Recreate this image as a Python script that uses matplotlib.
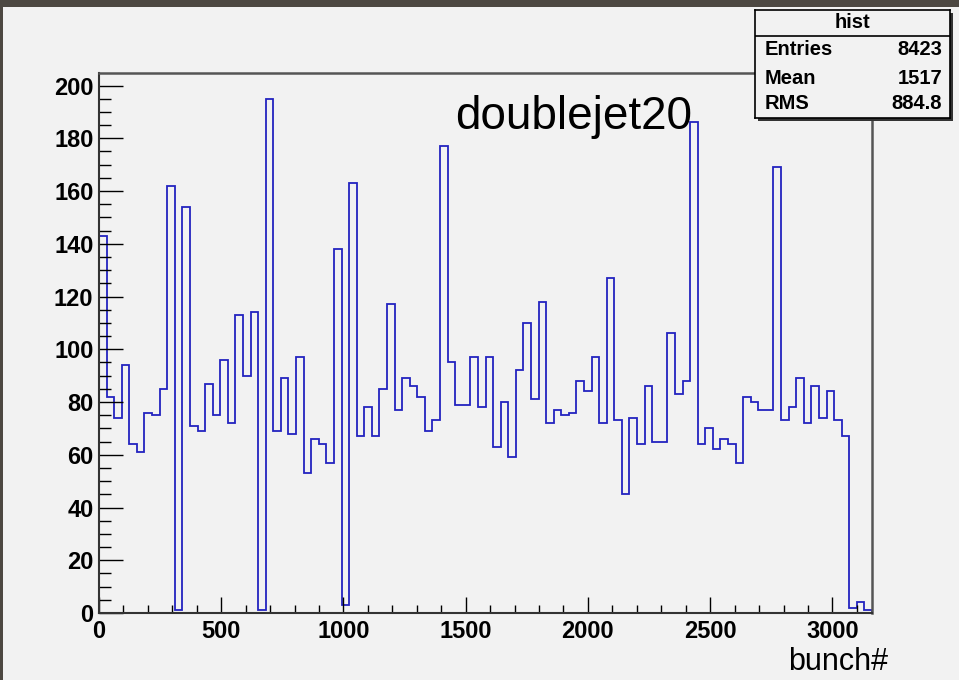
import numpy as np
import matplotlib.pyplot as plt
from matplotlib.patches import Rectangle
from matplotlib.ticker import MultipleLocator

plt.rcParams['font.family'] = ['Liberation Sans', 'DejaVu Sans']

# bin contents of "hist" (bins of 31 bunches, shown range 0-3162)
bin_width = 31
counts = [143, 82, 74, 94, 64, 61, 76, 75, 85, 162,
          1, 154, 71, 69, 87, 75, 96, 72, 113, 90,
          114, 1, 195, 69, 89, 68, 97, 53, 66, 64,
          57, 138, 3, 163, 67, 78, 67, 85, 117, 77,
          89, 86, 82, 69, 73, 177, 95, 79, 79, 97,
          78, 97, 63, 80, 59, 92, 110, 81, 118, 72,
          77, 75, 76, 88, 84, 97, 72, 127, 73, 45,
          74, 64, 86, 65, 65, 106, 83, 88, 186, 64,
          70, 62, 66, 64, 57, 82, 80, 77, 77, 169,
          73, 78, 89, 72, 86, 74, 84, 73, 67, 2,
          4, 1]
edges = np.arange(len(counts) + 1) * bin_width

title = "doublejet20"
xlabel = "bunch#"
stats_name = "hist"
stats_rows = [("Entries", "8423"), ("Mean", "1517"), ("RMS", "884.8")]

bg = '#f2f2f2'
W, H = 959, 680
fig = plt.figure(figsize=(W / 100, H / 100), dpi=100, facecolor=bg)

# window decoration of the screenshot
fig.patches.append(Rectangle((0, 1 - 7 / H), 1, 7 / H, transform=fig.transFigure,
                             facecolor='#4d4842', edgecolor='none', zorder=0))
fig.patches.append(Rectangle((0, 0), 3 / W, 1, transform=fig.transFigure,
                             facecolor='#4d4842', edgecolor='none', zorder=0))

ax = fig.add_axes([99 / W, 1 - 613 / H, (872 - 99) / W, (613 - 73) / H], facecolor=bg)
ax.stairs(counts, edges, color='#2323c0', linewidth=1.3)

ax.set_xlim(0, edges[-1])
ax.set_ylim(0, max(counts) * 1.05)

ax.xaxis.set_major_locator(MultipleLocator(500))
ax.xaxis.set_minor_locator(MultipleLocator(100))
ax.yaxis.set_major_locator(MultipleLocator(20))
ax.yaxis.set_minor_locator(MultipleLocator(5))

ax.tick_params(axis='both', which='both', direction='in', colors='black',
               top=False, right=False, width=1)
ax.tick_params(axis='x', which='major', length=11.5, pad=5)
ax.tick_params(axis='x', which='minor', length=5.8)
ax.tick_params(axis='y', which='major', length=17, pad=4)
ax.tick_params(axis='y', which='minor', length=8.6)

for lab in ax.get_xticklabels() + ax.get_yticklabels():
    lab.set_fontsize(17)
    lab.set_fontweight('bold')

for side in ['left', 'bottom']:
    ax.spines[side].set_color('#333333')
    ax.spines[side].set_linewidth(1.5)
for side in ['top', 'right']:
    ax.spines[side].set_color('#555555')
    ax.spines[side].set_linewidth(1.8)

fig.text(455 / W, 1 - 129 / H, title, fontsize=33, va='baseline', ha='left')
fig.text(888 / W, 1 - 670 / H, xlabel, fontsize=22, va='baseline', ha='right')

# statistics box
bx, by, bw, bh = 755 / W, 1 - 118 / H, 195 / W, 108 / H
fig.patches.append(Rectangle((bx + 3 / W, by - 3 / H), bw, bh, transform=fig.transFigure,
                             facecolor='#333333', edgecolor='none', zorder=5))
box = fig.add_axes([bx, by, bw, bh], facecolor=bg, zorder=6)
box.set_xticks([])
box.set_yticks([])
for s in box.spines.values():
    s.set_color('black')
    s.set_linewidth(1.2)
box.axhline(0.759, color='black', linewidth=1.2)
box.text(0.5, 0.88, stats_name, fontsize=14.5, fontweight='bold', ha='center', va='center')
for (name, val), yy in zip(stats_rows, [0.63, 0.37, 0.13]):
    box.text(0.05, yy, name, fontsize=14.5, fontweight='bold', ha='left', va='center')
    box.text(0.96, yy, val, fontsize=14.5, fontweight='bold', ha='right', va='center')

fig.savefig('out.png', dpi=100, facecolor=bg)
